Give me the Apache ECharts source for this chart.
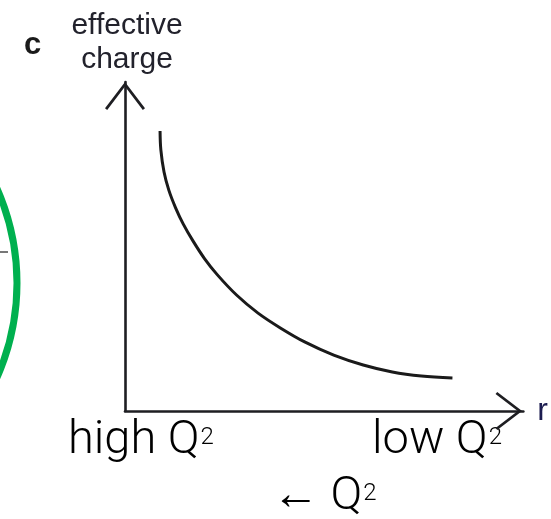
<!DOCTYPE html>
<html>
<head>
<meta charset="utf-8">
<title>Effective charge vs r</title>
<script src="https://cdn.jsdelivr.net/npm/echarts@6/dist/echarts.min.js"></script>
<style>
  html, body { margin: 0; padding: 0; background: #ffffff; }
  #chart { width: 551px; height: 519px; }
</style>
</head>
<body>
<div id="chart"></div>
<script>
// distance r (arbitrary units) and the effective charge along the curve
const rValues = [0.88, 0.90, 0.98, 1.10, 1.27, 1.46, 1.71, 2.00, 2.32, 2.80, 3.34, 3.90, 4.51, 5.24, 5.98, 6.71, 7.44, 8.22];
const chargeValues = [6.81, 6.35, 5.81, 5.37, 4.94, 4.55, 4.13, 3.70, 3.31, 2.82, 2.38, 2.02, 1.68, 1.36, 1.12, 0.95, 0.85, 0.80];

// axis labels
const panelLetter = 'c';
const yAxisTitle = 'effective\ncharge';
const xAxisTitle = 'r';
const leftLabel = ['high Q', '2'];
const rightLabel = ['low Q', '2'];
const arrowLabel = ['\u2190 Q', '2'];

const curve = rValues.map((r, i) => [r, chargeValues[i]]);

const chevron = 'path://M20 0 L40 26.2 L37.8 28 L20 4.6 L2.2 28 L0 26.2 Z';
const ink = '#1e1e22';
const labelFont = 'Roboto, "Liberation Sans", sans-serif';

function superscriptRich() {
  return {
    m: { fontFamily: labelFont, fontWeight: 300, fontSize: 47, lineHeight: 47, color: '#111' },
    s: { fontFamily: labelFont, fontWeight: 300, fontSize: 24, lineHeight: 47, color: '#111', padding: [0, 0, 6, 1] }
  };
}

const chart = echarts.init(document.getElementById('chart'), null, { renderer: 'canvas' });

chart.setOption({
  backgroundColor: '#ffffff',
  animation: false,
  grid: { left: 125, top: 82, width: 410, height: 329, containLabel: false },
  xAxis: {
    type: 'value', min: 0, max: 10,
    name: xAxisTitle, nameLocation: 'end', nameGap: 14,
    nameTextStyle: { fontFamily: '"Liberation Sans", sans-serif', fontSize: 32, color: '#1c1c50', verticalAlign: 'middle', padding: [0, 0, 6, 0] },
    axisLine: { show: true, onZero: false, symbol: ['none', chevron], symbolSize: [38, 29], symbolOffset: [0, -14.5],
      lineStyle: { color: ink, width: 2.6 } },
    axisTick: { show: false }, axisLabel: { show: false }, splitLine: { show: false }
  },
  yAxis: {
    type: 'value', min: 0, max: 8,
    name: yAxisTitle, nameLocation: 'end', nameGap: 5,
    nameTextStyle: { fontFamily: '"Liberation Sans", sans-serif', fontSize: 30, lineHeight: 34, color: '#22222c', align: 'center', padding: [0, 0, 0, 4] },
    axisLine: { show: true, onZero: false, symbol: ['none', chevron], symbolSize: [40, 28], symbolOffset: [0, -14],
      lineStyle: { color: ink, width: 2.6 } },
    axisTick: { show: false }, axisLabel: { show: false }, splitLine: { show: false }
  },
  series: [{
    type: 'line',
    data: curve,
    smooth: 0.35,
    symbol: 'none',
    lineStyle: { color: '#1a1a1a', width: 3 },
    z: 3
  }],
  graphic: [
    // edge of the neighbouring panel's green ring and its tick
    { type: 'circle', shape: { cx: -216, cy: 283, r: 233 }, style: { fill: 'none', stroke: '#00b04f', lineWidth: 7 }, silent: true },
    { type: 'line', shape: { x1: 0, y1: 252, x2: 8, y2: 252 }, style: { stroke: '#777', lineWidth: 2 }, silent: true },
    // panel letter
    { type: 'text', left: 24, top: 30, style: { text: panelLetter, font: 'bold 31px "Liberation Sans", sans-serif', fill: '#1a1a1a' } },
    // regime labels under the r axis
    { type: 'text', x: 68, y: 441, style: { text: '{m|' + leftLabel[0] + '}{s|' + leftLabel[1] + '}', rich: superscriptRich(), align: 'left', verticalAlign: 'middle' } },
    { type: 'text', x: 502, y: 441, style: { text: '{m|' + rightLabel[0] + '}{s|' + rightLabel[1] + '}', rich: superscriptRich(), align: 'right', verticalAlign: 'middle' } },
    { type: 'text', x: 272, y: 497, style: { text: '{m|' + arrowLabel[0] + '}{s|' + arrowLabel[1] + '}', rich: superscriptRich(), align: 'left', verticalAlign: 'middle' } }
  ]
});
</script>
</body>
</html>
